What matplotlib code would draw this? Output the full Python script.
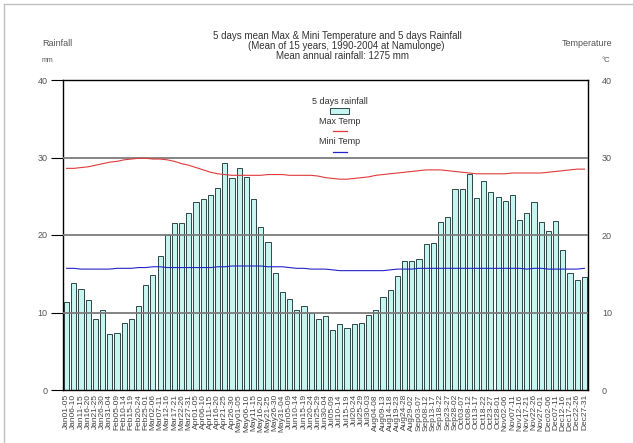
import matplotlib
matplotlib.use("Agg")
import matplotlib.pyplot as plt
from matplotlib.patches import Rectangle
from matplotlib.lines import Line2D
import numpy as np

plt.rcParams['font.family'] = ['Liberation Sans', 'DejaVu Sans']

# 5-day periods of the year
periods = [
    "Jan01-05", "Jan06-10", "Jan11-15", "Jan16-20", "Jan21-25", "Jan26-30",
    "Jan31-04", "Feb05-09", "Feb10-14", "Feb15-19", "Feb20-24", "Feb25-01",
    "Mar02-06", "Mar07-11", "Mar12-16", "Mar17-21", "Mar22-26", "Mar27-31",
    "Apr01-05", "Apr06-10", "Apr11-15", "Apr16-20", "Apr21-25", "Apr26-30",
    "May01-05", "May06-10", "May11-15", "May16-20", "May21-25", "May26-30",
    "May31-04", "Jun05-09", "Jun10-14", "Jun15-19", "Jun20-24", "Jun25-29",
    "Jun30-04", "Jul05-09", "Jul10-14", "Jul15-19", "Jul20-24", "Jul25-29",
    "Jul30-03", "Aug04-08", "Aug09-13", "Aug14-18", "Aug19-23", "Aug24-28",
    "Aug29-02", "Sep03-07", "Sep08-12", "Sep13-17", "Sep18-22", "Sep23-27",
    "Sep28-02", "Oct03-07", "Oct08-12", "Oct13-17", "Oct18-22", "Oct23-27",
    "Oct28-01", "Nov02-06", "Nov07-11", "Nov12-16", "Nov17-21", "Nov22-26",
    "Nov27-01", "Dec02-06", "Dec07-11", "Dec12-16", "Dec17-21", "Dec22-26",
    "Dec27-31",
]

# 5-day rainfall (mm)
rainfall = [
    11.3, 13.8, 13.0, 11.6, 9.1, 10.3, 7.2, 7.4, 8.6, 9.2, 10.9, 13.6,
    14.8, 17.3, 20.0, 21.5, 21.5, 22.8, 24.2, 24.6, 25.2, 26.1, 29.3, 27.4,
    28.6, 27.5, 24.7, 21.0, 19.1, 15.1, 12.6, 11.7, 10.3, 10.9, 10.0, 9.2,
    9.5, 7.8, 8.5, 8.0, 8.5, 8.6, 9.7, 10.3, 12.0, 12.9, 14.7, 16.6,
    16.7, 16.9, 18.8, 19.0, 21.7, 22.3, 26.0, 26.0, 27.9, 24.8, 27.0, 25.5,
    24.9, 24.4, 25.2, 21.9, 22.8, 24.3, 21.7, 20.5, 21.8, 18.1, 15.1, 14.2,
    14.6,
]

# 5-day mean maximum temperature (°C)
max_temp = [
    28.6, 28.6, 28.7, 28.8, 29.0, 29.2, 29.4, 29.5, 29.7, 29.8, 29.9, 29.9,
    29.8, 29.8, 29.7, 29.5, 29.2, 29.0, 28.7, 28.4, 28.1, 27.9, 27.8, 27.7,
    27.7, 27.7, 27.7, 27.7, 27.8, 27.8, 27.8, 27.7, 27.7, 27.7, 27.7, 27.6,
    27.4, 27.3, 27.2, 27.2, 27.3, 27.4, 27.5, 27.7, 27.8, 27.9, 28.0, 28.1,
    28.2, 28.3, 28.4, 28.4, 28.4, 28.3, 28.2, 28.1, 28.0, 27.9, 27.9, 27.9,
    27.9, 27.9, 28.0, 28.0, 28.0, 28.0, 28.0, 28.1, 28.2, 28.3, 28.4, 28.5,
    28.5,
]

# 5-day mean minimum temperature (°C)
min_temp = [
    15.7, 15.7, 15.6, 15.6, 15.6, 15.6, 15.6, 15.7, 15.7, 15.7, 15.8, 15.8,
    15.9, 15.9, 15.8, 15.8, 15.8, 15.8, 15.8, 15.8, 15.8, 15.9, 15.9, 16.0,
    16.0, 16.0, 16.0, 16.0, 15.9, 15.9, 15.9, 15.8, 15.7, 15.7, 15.6, 15.6,
    15.6, 15.5, 15.4, 15.4, 15.4, 15.4, 15.4, 15.4, 15.4, 15.5, 15.6, 15.6,
    15.6, 15.7, 15.7, 15.7, 15.7, 15.7, 15.7, 15.7, 15.7, 15.7, 15.7, 15.7,
    15.7, 15.7, 15.7, 15.7, 15.6, 15.7, 15.7, 15.6, 15.6, 15.6, 15.6, 15.6,
    15.7,
]

y_ticks = [0, 10, 20, 30, 40]

W, H = 633, 443
fig = plt.figure(figsize=(W / 100, H / 100), dpi=100)


def fx(x):
    return x / W


def fy(y):
    return 1 - y / H


# thin page frame
fig.add_artist(Line2D([fx(4), 1.0], [fy(4), fy(4)], color='#c0c0c0', lw=1.0))
fig.add_artist(Line2D([fx(4), fx(4)], [fy(4), 0.0], color='#c0c0c0', lw=1.0))

left, right, top, bottom = 63, 588, 80, 390
ax = fig.add_axes([fx(left), fy(bottom), (right - left) / W, (bottom - top) / H])

x = np.arange(len(periods))
bar_fill = '#c6f4ef'
ax.bar(x, rainfall, width=0.72, color=bar_fill, edgecolor='#2c4848',
       linewidth=0.7, zorder=2)
for v in [10, 20, 30]:
    ax.axhline(v, color='#7c7c7c', lw=1.3, zorder=3)

txt = '#555555'
ax.set_xlim(-0.5, len(periods) - 0.5)
ax.set_ylim(0, 40)
ax.set_yticks(y_ticks)
ax.set_yticklabels([str(t) for t in y_ticks], fontsize=6.5, color=txt)
ax.tick_params(axis='y', direction='out', length=9, width=0.8, pad=2)
ax.set_xticks(x)
ax.set_xticklabels(periods, rotation=90, fontsize=6, color='#444444')
ax.tick_params(axis='x', length=0, pad=3)
for s in ax.spines.values():
    s.set_color('black')
    s.set_linewidth(1.0)

ax2 = ax.twinx()
ax2.set_ylim(0, 40)
ax2.plot(x, max_temp, color='#e03a3a', lw=0.8, zorder=4)
ax2.plot(x, min_temp, color='#2424c8', lw=0.8, zorder=4)
ax2.set_yticks(y_ticks)
ax2.set_yticklabels([str(t) for t in y_ticks], fontsize=6.5, color=txt)
ax2.tick_params(axis='y', length=0, pad=10)
for s in ax2.spines.values():
    s.set_visible(False)

# titles and axis captions
fig.text(fx(337), fy(36), "5 days mean Max & Mini Temperature and 5 days Rainfall",
         ha='center', va='center', fontsize=7, color='#333333')
fig.text(fx(346), fy(46), "(Mean of 15 years, 1990-2004 at Namulonge)",
         ha='center', va='center', fontsize=7, color='#333333')
fig.text(fx(343), fy(56), "Mean annual rainfall: 1275 mm",
         ha='center', va='center', fontsize=7, color='#333333')
fig.text(fx(42), fy(44), "Rainfall", ha='left', va='center', fontsize=6.5, color=txt)
fig.text(fx(42), fy(60), "mm", ha='left', va='center', fontsize=5, color=txt)
fig.text(fx(612), fy(44), "Temperature", ha='right', va='center', fontsize=6.5, color=txt)
fig.text(fx(610), fy(60), "°C", ha='right', va='center', fontsize=5.5, color=txt)

# stacked legend
fig.text(fx(340), fy(101), "5 days rainfall", ha='center', va='center', fontsize=6.5,
         color='#333333')
fig.add_artist(Rectangle((fx(330), fy(114)), 19 / W, 6 / H, facecolor=bar_fill,
                         edgecolor='#2c4848', lw=0.7, transform=fig.transFigure))
fig.text(fx(340), fy(122), "Max Temp", ha='center', va='center', fontsize=6.5,
         color='#333333')
fig.add_artist(Line2D([fx(333), fx(347)], [fy(131), fy(131)], color='#e03a3a', lw=0.9))
fig.text(fx(340), fy(142), "Mini Temp", ha='center', va='center', fontsize=6.5,
         color='#333333')
fig.add_artist(Line2D([fx(333), fx(347)], [fy(152), fy(152)], color='#2424c8', lw=0.9))

fig.savefig("out.png", dpi=100)
